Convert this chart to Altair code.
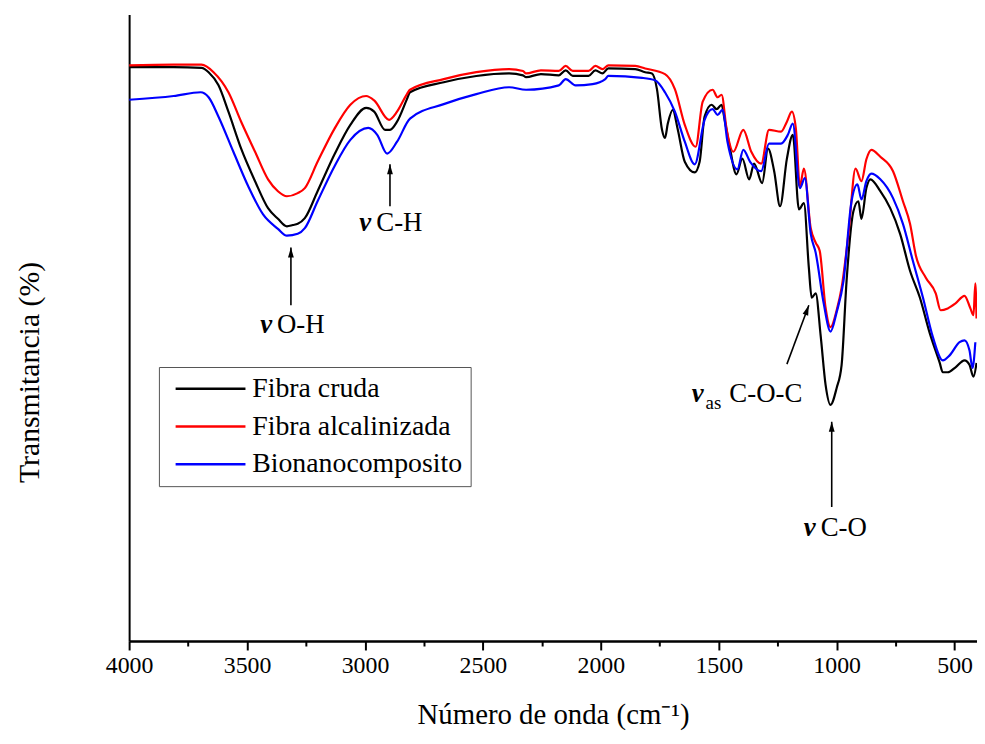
import altair as alt
import pandas as pd

FONT = "Liberation Serif"

series_names = ["Fibra cruda", "Fibra alcalinizada", "Bionanocomposito"]
series_colors = ["#000000", "#ff0000", "#0000ff"]

wn_cruda = [4000, 3811, 3693, 3663, 3621, 3579, 3525, 3466, 3411, 3369, 3331, 3306, 3285, 3255, 3201,
            3129, 3062, 2995, 2961, 2915, 2894, 2864, 2822, 2809, 2666, 2528, 2389, 2330, 2317, 2254,
            2178, 2149, 2119, 2052, 2023, 1993, 1968, 1854, 1812, 1783, 1762, 1741, 1728, 1716, 1695,
            1674, 1644, 1602, 1581, 1560, 1530, 1509, 1488, 1476, 1455, 1425, 1400, 1371, 1350, 1316,
            1291, 1265, 1240, 1211, 1186, 1160, 1139, 1118, 1106, 1089, 1068, 1047, 1026, 1000, 979,
            958, 929, 908, 895, 874, 857, 815, 773, 731, 689, 647, 605, 563, 550, 529, 496, 458, 437,
            420, 407]
t_cruda = [91.6, 91.6, 91.5, 90.8, 88.7, 84.5, 78.6, 73.4, 69.1, 67.4, 66.2, 66.4, 66.6, 67.5, 71.8,
           77.7, 82.4, 85.1, 84.5, 81.6, 81.6, 82.9, 86.5, 87.6, 89.2, 90.2, 90.6, 90.3, 90.0, 90.5,
           90.3, 91.1, 90.2, 90.2, 91.1, 90.6, 91.4, 91.3, 90.8, 90.6, 88.1, 81.7, 80.3, 82.6, 84.8,
           81.7, 76.5, 74.8, 76.5, 83.7, 85.6, 84.9, 85.6, 83.4, 79.2, 74.5, 77.0, 73.7, 76.2, 73.1,
           78.6, 75.0, 69.4, 77.0, 80.8, 68.9, 69.9, 59.6, 54.8, 55.5, 48.8, 40.9, 37.7, 40.4, 44.1,
           57.5, 68.6, 70.2, 67.4, 72.3, 73.7, 71.8, 69.1, 65.0, 59.1, 54.8, 49.1, 44.4, 42.9, 42.9,
           43.7, 44.8, 44.1, 42.2, 44.4]

wn_alc = [4000, 3811, 3693, 3642, 3579, 3525, 3466, 3411, 3369, 3331, 3285, 3255, 3201, 3129, 3062,
          2995, 2961, 2898, 2864, 2822, 2809, 2666, 2528, 2389, 2330, 2317, 2254, 2178, 2149, 2119,
          2052, 2023, 1993, 1968, 1854, 1812, 1728, 1686, 1644, 1598, 1568, 1526, 1505, 1488, 1467,
          1438, 1396, 1362, 1320, 1287, 1236, 1211, 1190, 1173, 1156, 1139, 1110, 1089, 1072, 1047,
          1026, 1000, 979, 950, 920, 895, 874, 853, 815, 761, 719, 689, 664, 622, 580, 559, 529, 496,
          458, 433, 420, 412, 407]
t_alc = [91.9, 92.0, 92.0, 90.8, 87.6, 82.9, 78.1, 73.7, 71.8, 71.0, 71.5, 72.3, 76.5, 81.8, 85.6,
         87.0, 86.3, 83.2, 84.5, 87.3, 88.0, 89.7, 90.8, 91.3, 91.0, 90.6, 91.1, 91.0, 91.8, 91.0,
         91.0, 91.8, 91.3, 91.9, 91.8, 91.4, 90.5, 88.1, 82.4, 78.9, 86.1, 88.0, 86.8, 87.2, 81.8,
         78.1, 81.6, 78.1, 76.2, 81.6, 81.3, 82.9, 84.5, 81.8, 72.6, 75.4, 65.9, 63.6, 62.3, 53.2,
         50.1, 52.8, 56.4, 65.0, 75.4, 73.4, 76.9, 78.4, 77.3, 75.0, 70.2, 66.6, 61.5, 58.0, 55.5,
         52.8, 53.1, 53.9, 55.1, 53.1, 52.0, 57.1, 51.5]

wn_bio = [4000, 3811, 3697, 3663, 3621, 3558, 3495, 3432, 3369, 3331, 3285, 3255, 3201, 3129, 3062,
          2986, 2948, 2906, 2864, 2809, 2666, 2528, 2389, 2317, 2178, 2149, 2107, 2035, 1981, 1968,
          1825, 1770, 1728, 1686, 1644, 1602, 1560, 1526, 1505, 1484, 1463, 1421, 1396, 1367, 1320,
          1287, 1236, 1207, 1186, 1156, 1135, 1110, 1089, 1055, 1026, 1000, 971, 937, 912, 895, 874,
          853, 815, 761, 719, 677, 634, 592, 550, 521, 479, 458, 437, 424, 412]
t_bio = [86.4, 87.0, 87.6, 86.8, 83.7, 78.1, 72.6, 68.1, 65.8, 64.7, 65.0, 65.9, 70.2, 75.8, 80.0,
         81.9, 80.8, 77.8, 79.7, 83.4, 85.7, 87.3, 88.4, 88.0, 88.7, 89.7, 88.7, 88.9, 89.7, 90.2,
         89.9, 89.5, 87.6, 84.5, 79.7, 76.1, 83.2, 84.9, 84.0, 84.8, 79.7, 75.3, 78.4, 76.5, 75.0,
         79.4, 79.4, 80.8, 82.6, 72.3, 73.9, 65.0, 62.0, 53.9, 49.4, 52.5, 57.5, 70.2, 72.9, 70.5,
         73.4, 74.6, 73.7, 70.7, 66.6, 60.7, 54.8, 48.5, 44.8, 45.6, 47.7, 48.0, 46.4, 43.6, 47.7]

major_ticks = [4000, 3500, 3000, 2500, 2000, 1500, 1000, 500]
minor_ticks = [3750, 3250, 2750, 2250, 1750, 1250, 750]

# annotations
ann_nu_x = [3419, 2999, 1589, 1114]
ann_nu_y = [49.1, 65.5, 38.2, 16.8]
ann_txt = ["O-H", "C-H", "C-O-C", "C-O"]
ann_txt_x = [3373, 2952, 1455, 1068]
ann_txt_y = [49.1, 65.5, 38.2, 16.8]
sub_txt = ["as"]
sub_x = [1556]
sub_y = [37.1]
arrow_x1 = [3314, 2894, 1211, 1021]
arrow_y1 = [53.6, 69.4, 44.2, 21.4]
arrow_x2 = [3314, 2894, 1118, 1021]
arrow_y2 = [62.8, 76.1, 53.6, 35.0]
arrow_angle = [0, 0, 20, 0]

rows = []
for name, wns, ts in zip(series_names, [wn_cruda, wn_alc, wn_bio], [t_cruda, t_alc, t_bio]):
    for w, t in zip(wns, ts):
        rows.append({"wn": w, "t": t, "serie": name})
df = pd.DataFrame(rows)

nu_df = pd.DataFrame({"x": ann_nu_x, "y": ann_nu_y, "s": ["ν"] * len(ann_nu_x)})
txt_df = pd.DataFrame({"x": ann_txt_x, "y": ann_txt_y, "s": ann_txt})
sub_df = pd.DataFrame({"x": sub_x, "y": sub_y, "s": sub_txt})
arr_df = pd.DataFrame({"x1": arrow_x1, "y1": arrow_y1, "x2": arrow_x2, "y2": arrow_y2, "ang": arrow_angle})

x_scale = alt.Scale(domain=[4000, 405], nice=False, zero=False)
y_scale = alt.Scale(domain=[0, 100], nice=False, zero=False)

x_axis = alt.Axis(
    orient="bottom",
    values=major_ticks,
    format="d",
    grid=False, ticks=True,
    domainColor="black", domainWidth=2,
    tickColor="black", tickWidth=2, tickSize=9, tickOpacity=1,
    labelFont=FONT, labelFontSize=24, labelColor="black", labelPadding=4,
    labelFlush=False,
    titleFont=FONT, titleFontSize=29, titleFontWeight="normal", titleColor="black",
    titleY=83, titleBaseline="alphabetic",
)
x_minor_axis = alt.Axis(
    orient="bottom",
    values=minor_ticks, labels=False, grid=False, title=None, ticks=True,
    domainColor="black", domainWidth=2,
    tickColor="black", tickWidth=2, tickSize=5, tickOpacity=1,
)
y_axis = alt.Axis(
    orient="left",
    labels=False, ticks=False, grid=False,
    domainColor="black", domainWidth=2,
    titleFont=FONT, titleFontSize=30, titleFontWeight="normal", titleColor="black",
    titleX=-100, titleY=360, titleAngle=270, titleAlign="center", titleBaseline="middle",
)

lines = alt.Chart(df).mark_line(strokeWidth=2.2, interpolate="monotone", clip=True).encode(
    x=alt.X("wn:Q", scale=x_scale, axis=x_axis, title="Número de onda (cm⁻¹)"),
    y=alt.Y("t:Q", scale=y_scale, axis=y_axis, title="Transmitancia (%)"),
    color=alt.Color(
        "serie:N",
        scale=alt.Scale(domain=series_names, range=series_colors),
        sort=series_names,
        legend=alt.Legend(
            title=None, orient="none", legendX=30, legendY=355,
            strokeColor="#555555", fillColor="white", padding=8,
            labelFont=FONT, labelFontSize=28, labelColor="black", labelLimit=0,
            symbolType="M-3,0H3", symbolSize=550, symbolStrokeWidth=2.5,
            symbolOffset=30, labelOffset=28, rowPadding=10,
        ),
    ),
)

minor = alt.Chart(df).mark_line(opacity=0).encode(
    x=alt.X("wn:Q", scale=x_scale, axis=x_minor_axis),
    y=alt.Y("t:Q", scale=y_scale, axis=None),
)

arrows = alt.Chart(arr_df).mark_rule(color="black", strokeWidth=1.6).encode(
    x=alt.X("x1:Q", scale=x_scale, axis=None), y=alt.Y("y1:Q", scale=y_scale, axis=None),
    x2="x2:Q", y2="y2:Q",
)
heads = alt.Chart(arr_df).mark_point(
    shape="M0,0L-0.38,1.3L0.38,1.3Z", filled=True, color="black", opacity=1, size=240
).encode(
    x=alt.X("x2:Q", scale=x_scale, axis=None), y=alt.Y("y2:Q", scale=y_scale, axis=None),
    angle=alt.Angle("ang:Q", scale=None),
)
nu = alt.Chart(nu_df).mark_text(
    font=FONT, fontSize=27, fontStyle="italic", fontWeight="bold", color="black",
    align="center", baseline="alphabetic",
).encode(x=alt.X("x:Q", scale=x_scale, axis=None), y=alt.Y("y:Q", scale=y_scale, axis=None), text="s:N")
txt = alt.Chart(txt_df).mark_text(
    font=FONT, fontSize=27, color="black", align="left", baseline="alphabetic",
).encode(x=alt.X("x:Q", scale=x_scale, axis=None), y=alt.Y("y:Q", scale=y_scale, axis=None), text="s:N")
sub = alt.Chart(sub_df).mark_text(
    font=FONT, fontSize=19, color="black", align="left", baseline="alphabetic",
).encode(x=alt.X("x:Q", scale=x_scale, axis=None), y=alt.Y("y:Q", scale=y_scale, axis=None), text="s:N")

chart = alt.layer(minor, lines, arrows, heads, nu, txt, sub).resolve_axis(
    x="independent", y="independent"
).properties(
    width=854, height=631,
    padding={"left": 122, "top": 4, "right": 0, "bottom": 88},
    autosize=alt.AutoSizeParams(type="none"),
).configure(
    background="white", font=FONT,
    style={"guide-label": {"font": FONT}, "guide-title": {"font": FONT}},
).configure_view(stroke=None).configure_axis(
    labelFont=FONT, titleFont=FONT, labelFontSize=24, labelColor="black",
    tickColor="black", tickWidth=2
)

chart.save("out.html", embed_options={"renderer": "svg", "actions": False})
